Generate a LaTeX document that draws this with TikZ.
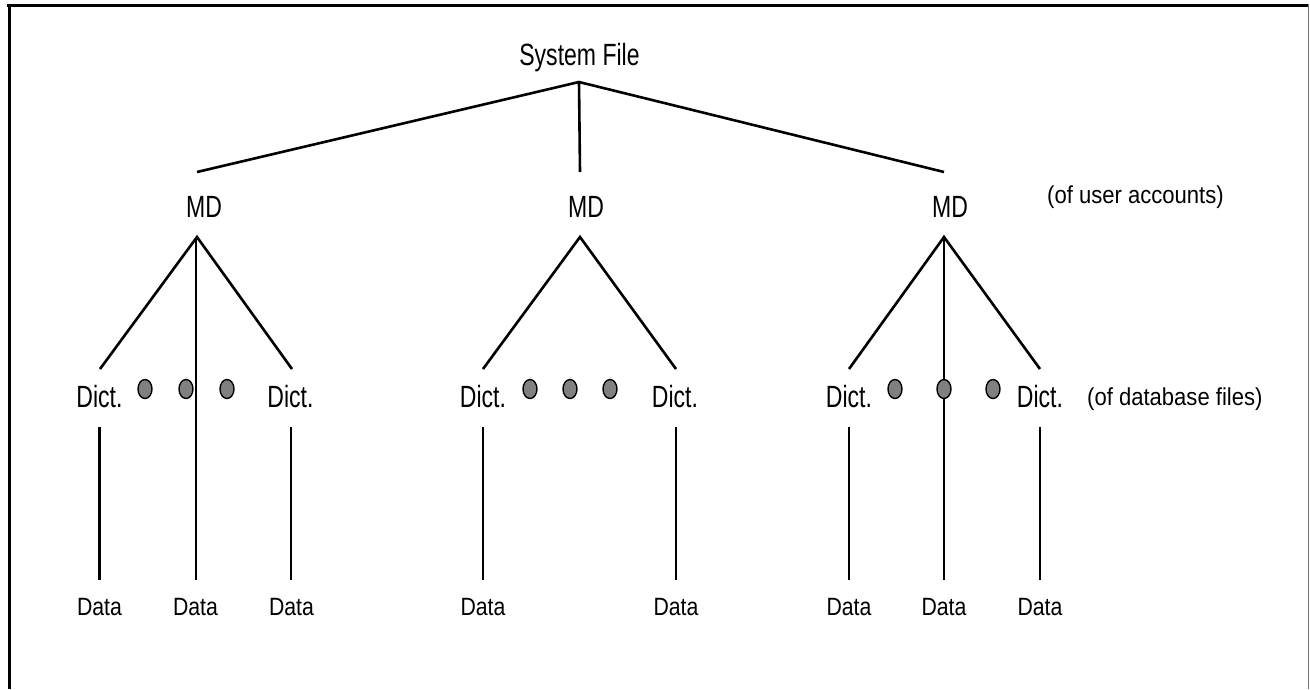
\documentclass[tikz,border=0pt]{standalone}
\usepackage{fontspec}
\setmainfont{Liberation Sans}
\newfontfamily\lblfont[FakeStretch=0.75]{Liberation Sans}
\newfontfamily\datafont[FakeStretch=0.85]{Liberation Sans}
\newfontfamily\notefont[FakeStretch=0.9]{Liberation Sans}
\usetikzlibrary{shapes.geometric}
\begin{document}
\begin{tikzpicture}[x=1pt,y=-1pt,
  lbl/.style={font=\lblfont\fontsize{30.7}{34}\selectfont, inner sep=0pt, anchor=base},
  datalbl/.style={font=\datafont\fontsize{25}{28}\selectfont, inner sep=0pt, anchor=base},
  note/.style={font=\notefont\fontsize{24.5}{28}\selectfont, inner sep=0pt, anchor=base west},
  edge/.style={line width=2.6pt},
  dot/.style={ellipse, draw=black, line width=1.4pt, fill=black!50, inner sep=0pt,
              minimum width=14pt, minimum height=19pt}]
\useasboundingbox (0,0) rectangle (1310,689);

% frame
\draw[line width=3.5pt] (7,5.5) -- (1308,5.5);
\draw[line width=3.5pt] (9.5,4) -- (9.5,689);
\draw[line width=1.3pt, black!55] (1308.8,4) -- (1308.8,689);

% root
\node[lbl] (sys) at (579.5,65) {System File};
\coordinate (sysj) at (579,82);

% master dictionaries
\node[lbl] (md1) at (204,217) {MD};
\node[lbl] (md2) at (586,217) {MD};
\node[lbl] (md3) at (950,217) {MD};
\node[note] (userNote) at (1047,203) {(of user accounts)};

\coordinate (md1t) at (197,172);
\coordinate (md2t) at (580,172);
\coordinate (md3t) at (944,172);
\coordinate (md1b) at (197,237);
\coordinate (md2b) at (580,237);
\coordinate (md3b) at (944,237);

\draw[edge] (md1t) -- (sysj) -- (md3t);
\draw[edge] (sysj) -- (md2t);

% file dictionaries
\node[lbl] (d11) at (99.5,407) {Dict.};
\node[lbl] (d12) at (290.5,407) {Dict.};
\node[lbl] (d21) at (483,407) {Dict.};
\node[lbl] (d22) at (675,407) {Dict.};
\node[lbl] (d31) at (849,407) {Dict.};
\node[lbl] (d32) at (1040,407) {Dict.};
\node[note] (dbNote) at (1087,405) {(of database files)};

\coordinate (d11t) at (100,369);
\coordinate (d12t) at (292,369);
\coordinate (d21t) at (483,369);
\coordinate (d22t) at (676,369);
\coordinate (d31t) at (849,369);
\coordinate (d32t) at (1040,369);

\coordinate (d11b) at (99.5,427);
\coordinate (d12b) at (291,427);
\coordinate (d21b) at (483,427);
\coordinate (d22b) at (676,427);
\coordinate (d31b) at (849,427);
\coordinate (d32b) at (1040,427);

\draw[edge] (d11t) -- (md1b) -- (d12t);
\draw[edge] (d21t) -- (md2b) -- (d22t);
\draw[edge] (d31t) -- (md3b) -- (d32t);

% data files
\node[datalbl] (a11) at (99.5,615) {Data};
\node[datalbl] (a12) at (195.5,615) {Data};
\node[datalbl] (a13) at (291.5,615) {Data};
\node[datalbl] (a21) at (483,615) {Data};
\node[datalbl] (a22) at (676,615) {Data};
\node[datalbl] (a31) at (849,615) {Data};
\node[datalbl] (a32) at (944,615) {Data};
\node[datalbl] (a33) at (1040,615) {Data};

\coordinate (a11t) at (99.5,580);
\coordinate (a12t) at (196,580);
\coordinate (a13t) at (291,580);
\coordinate (a21t) at (483,580);
\coordinate (a22t) at (676,580);
\coordinate (a31t) at (849,580);
\coordinate (a32t) at (944,580);
\coordinate (a33t) at (1040,580);
\coordinate (md1s) at (196,237);

\draw[edge] (d11b) -- (a11t);
\draw[edge] (d12b) -- (a13t);
\draw[edge] (d21b) -- (a21t);
\draw[edge] (d22b) -- (a22t);
\draw[edge] (d31b) -- (a31t);
\draw[edge] (d32b) -- (a33t);
\draw[edge] (md1s) -- (a12t);
\draw[edge] (md3b) -- (a32t);

% ellipsis dots
\node[dot] (e11) at (145,389) {};
\node[dot] (e12) at (186,389) {};
\node[dot] (e13) at (227,389) {};
\node[dot] (e21) at (530,389) {};
\node[dot] (e22) at (570,389) {};
\node[dot] (e23) at (610,389) {};
\node[dot] (e31) at (895,389) {};
\node[dot] (e32) at (944,389) {};
\node[dot] (e33) at (993,389) {};
\end{tikzpicture}
\end{document}
